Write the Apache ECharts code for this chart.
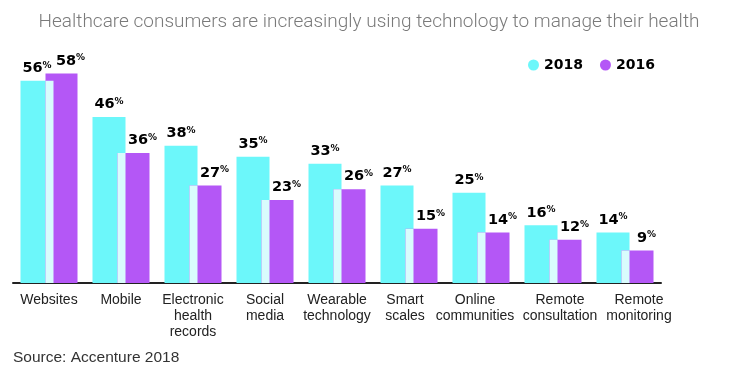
<!DOCTYPE html>
<html>
<head>
<meta charset="utf-8">
<script src="https://cdn.jsdelivr.net/npm/echarts@6/dist/echarts.min.js"></script>
<style>
html,body{margin:0;padding:0;background:#fff;}
#chart{width:738px;height:380px;}
</style>
</head>
<body>
<div id="chart"></div>
<script>
var categories = ['Websites', 'Mobile', 'Electronic\nhealth\nrecords', 'Social\nmedia', 'Wearable\ntechnology', 'Smart\nscales', 'Online\ncommunities', 'Remote\nconsultation', 'Remote\nmonitoring'];
var values2018 = [56, 46, 38, 35, 33, 27, 25, 16, 14];
var values2016 = [58, 36, 27, 23, 26, 15, 14, 12, 9];
var seriesNames = ['2018', '2016'];
var titleText = 'Healthcare consumers are increasingly using technology to manage their health';
var sourceText = 'Source: Accenture 2018';

var CYAN = '#6cf7fa', PURPLE = '#b457f6', STRIP = '#d9fcfd';
var BAR_W = 33, BAR_W2 = 32, OVERLAP = 8;
// horizontal nudges (px) of some category labels, as in the original layout
var labelShift = {5: -4, 6: -6, 7: 7, 8: 14};

var chart = echarts.init(document.getElementById('chart'), null, {renderer: 'canvas'});

var richLabel = {
  a: {fontFamily: 'DejaVu Sans', fontWeight: 'bold', fontSize: 14.5, color: '#000', lineHeight: 15},
  b: {fontFamily: 'DejaVu Sans', fontWeight: 'bold', fontSize: 9, color: '#000', lineHeight: 15, verticalAlign: 'top', padding: [0, 0, 4, 0]}
};
function fmt(p) { return '{a|' + p.value + '}{b|%}'; }

var catRich = {};
Object.keys(labelShift).forEach(function (k) {
  var s = labelShift[k];
  catRich['s' + k] = {fontFamily: 'Liberation Sans', fontSize: 14, lineHeight: 16, color: '#222',
    padding: s > 0 ? [0, 0, 0, 2 * s] : [0, -2 * s, 0, 0]};
});

var overlapData = categories.map(function (c, i) { return [i, values2018[i], values2016[i]]; });

var option = {
  animation: false,
  textStyle: {fontFamily: 'Liberation Sans'},
  title: [
    {text: titleText, left: 'center', top: 13, padding: 0,
     textStyle: {fontFamily: 'Roboto', fontWeight: 300, fontSize: 19, color: '#7a7a7a'}},
    {text: sourceText, left: 13, top: 350, padding: 0,
     textStyle: {fontFamily: 'Liberation Sans', fontWeight: 'normal', fontSize: 15.5, color: '#333'}}
  ],
  legend: {
    data: seriesNames,
    left: 523, top: 53,
    icon: 'circle', itemWidth: 11, itemHeight: 11, itemGap: 17,
    textStyle: {fontFamily: 'DejaVu Sans', fontWeight: 'bold', fontSize: 14, color: '#000'}
  },
  grid: {left: 13, right: 77, top: 66.4, bottom: 97, containLabel: false},
  xAxis: {
    type: 'category', data: categories,
    axisLine: {lineStyle: {color: '#222', width: 2}},
    axisTick: {show: false},
    axisLabel: {interval: 0, margin: 9, fontFamily: 'Liberation Sans', fontSize: 14, lineHeight: 16, color: '#222',
      rich: catRich,
      formatter: function (val, i) {
        if (labelShift[i] === undefined) return val;
        return val.split('\n').map(function (l) { return '{s' + i + '|' + l + '}'; }).join('\n');
      }}
  },
  yAxis: {type: 'value', min: 0, max: 60, show: false, splitLine: {show: false}},
  series: [
    {name: seriesNames[0], type: 'bar', data: values2018, barWidth: BAR_W, barGap: (-OVERLAP / BAR_W * 100) + '%',
     itemStyle: {color: CYAN}, z: 2,
     label: {show: true, position: 'top', distance: 5, formatter: fmt, rich: richLabel}},
    {name: seriesNames[1], type: 'bar', data: values2016, barWidth: BAR_W2, barGap: (-OVERLAP / BAR_W * 100) + '%',
     itemStyle: {color: PURPLE}, z: 3,
     label: {show: true, position: 'top', distance: 5, offset: [9, 0], formatter: fmt, rich: richLabel}},
    {name: 'overlap', type: 'custom', data: overlapData, z: 4, silent: true,
     encode: {x: 0, y: 1},
     renderItem: function (params, api) {
       var idx = api.value(0);
       var m = Math.min(api.value(1), api.value(2));
       var top = api.coord([idx, m]);
       var base = api.coord([idx, 0]);
       var widthSum = BAR_W - OVERLAP + BAR_W2;
       var x0 = base[0] - widthSum / 2 + BAR_W - OVERLAP;
       return {type: 'rect', shape: {x: x0, y: top[1], width: OVERLAP, height: base[1] - top[1]},
               style: {fill: STRIP}};
     }}
  ]
};
chart.setOption(option);
</script>
</body>
</html>
